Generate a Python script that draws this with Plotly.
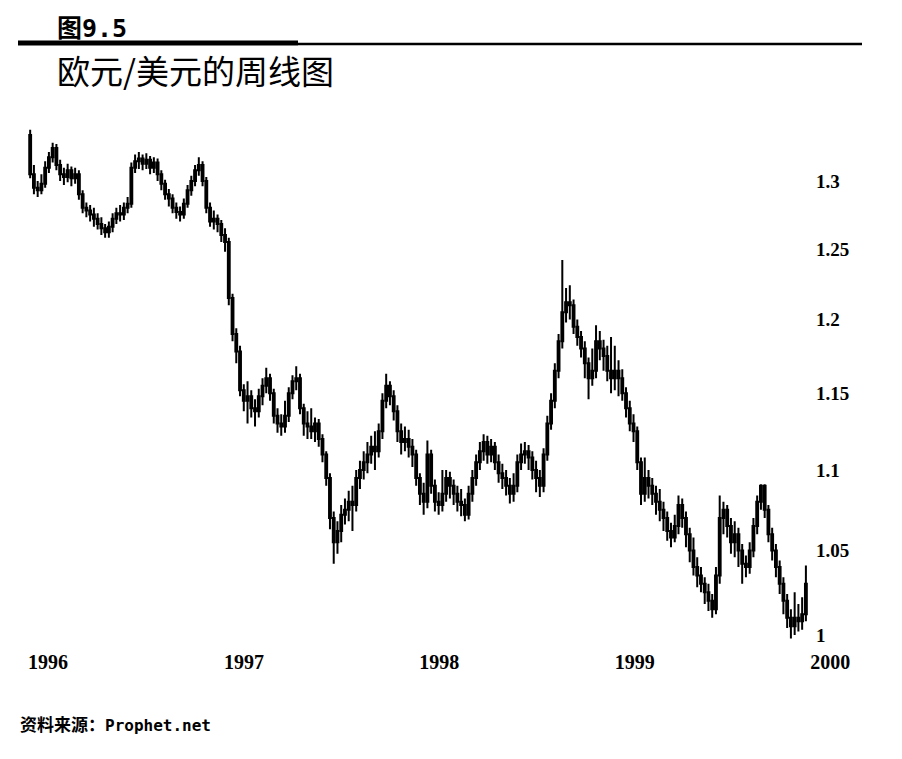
import pandas as pd
import plotly.graph_objects as go

# weekly EUR/USD candles, Jan 1996 - Dec 1999
weeks = pd.date_range("1996-01-05", periods=208, freq="W-FRI")

opens = [
    # 1996
    1.335, 1.305, 1.295, 1.293, 1.298, 1.310, 1.318, 1.325, 1.312, 1.305, 1.303, 1.308, 1.302,
    1.305, 1.290, 1.280, 1.278, 1.275, 1.272, 1.268, 1.265, 1.262, 1.266, 1.272, 1.276, 1.275,
    1.280, 1.283, 1.310, 1.315, 1.317, 1.313, 1.316, 1.310, 1.314, 1.305, 1.298, 1.290, 1.287,
    1.280, 1.277, 1.275, 1.283, 1.293, 1.300, 1.308, 1.312, 1.300, 1.280, 1.270, 1.272, 1.268,
    # 1997
    1.260, 1.255, 1.215, 1.190, 1.178, 1.152, 1.145, 1.148, 1.140, 1.138, 1.148, 1.155, 1.160,
    1.150, 1.135, 1.130, 1.128, 1.135, 1.150, 1.158, 1.160, 1.140, 1.130, 1.128, 1.125, 1.130,
    1.120, 1.110, 1.095, 1.070, 1.055, 1.062, 1.072, 1.075, 1.080, 1.078, 1.095, 1.100, 1.105,
    1.110, 1.115, 1.112, 1.125, 1.145, 1.155, 1.148, 1.138, 1.125, 1.118, 1.120, 1.115, 1.110,
    # 1998
    1.095, 1.085, 1.080, 1.110, 1.090, 1.080, 1.078, 1.085, 1.095, 1.090, 1.085, 1.080, 1.078,
    1.072, 1.085, 1.095, 1.105, 1.112, 1.118, 1.110, 1.115, 1.105, 1.098, 1.095, 1.090, 1.085,
    1.090, 1.105, 1.110, 1.112, 1.108, 1.100, 1.095, 1.090, 1.110, 1.130, 1.145, 1.165, 1.185,
    1.205, 1.212, 1.210, 1.195, 1.188, 1.180, 1.170, 1.160, 1.165, 1.185, 1.180, 1.175, 1.165,
    # 1999
    1.160, 1.165, 1.160, 1.150, 1.140, 1.130, 1.125, 1.105, 1.085, 1.095, 1.090, 1.085, 1.080,
    1.075, 1.070, 1.062, 1.058, 1.065, 1.078, 1.070, 1.060, 1.050, 1.040, 1.035, 1.030, 1.025,
    1.020, 1.015, 1.035, 1.070, 1.075, 1.065, 1.055, 1.060, 1.050, 1.042, 1.040, 1.050, 1.065,
    1.080, 1.090, 1.075, 1.060, 1.050, 1.040, 1.030, 1.020, 1.010, 1.005, 1.010, 1.008, 1.012,
]

highs = [
    # 1996
    1.339, 1.312, 1.300, 1.305, 1.315, 1.322, 1.329, 1.328, 1.316, 1.310, 1.313, 1.311, 1.310,
    1.308, 1.293, 1.284, 1.282, 1.280, 1.276, 1.273, 1.268, 1.270, 1.276, 1.280, 1.282, 1.284,
    1.288, 1.314, 1.320, 1.322, 1.320, 1.321, 1.319, 1.318, 1.317, 1.308, 1.301, 1.294, 1.290,
    1.284, 1.281, 1.287, 1.297, 1.304, 1.312, 1.318, 1.315, 1.303, 1.284, 1.278, 1.275, 1.271,
    # 1997
    1.265, 1.258, 1.218, 1.194, 1.182, 1.156, 1.158, 1.152, 1.146, 1.153, 1.160, 1.167, 1.163,
    1.153, 1.140, 1.136, 1.145, 1.154, 1.162, 1.168, 1.163, 1.143, 1.138, 1.140, 1.134, 1.133,
    1.123, 1.112, 1.098, 1.074, 1.068, 1.078, 1.082, 1.087, 1.090, 1.100, 1.106, 1.112, 1.118,
    1.122, 1.125, 1.130, 1.150, 1.163, 1.158, 1.152, 1.142, 1.130, 1.128, 1.126, 1.120, 1.113,
    # 1998
    1.098, 1.092, 1.119, 1.113, 1.094, 1.086, 1.100, 1.100, 1.099, 1.094, 1.090, 1.088, 1.082,
    1.090, 1.100, 1.110, 1.118, 1.123, 1.122, 1.120, 1.118, 1.110, 1.104, 1.100, 1.095, 1.098,
    1.110, 1.117, 1.118, 1.116, 1.112, 1.106, 1.100, 1.114, 1.135, 1.150, 1.170, 1.190, 1.242,
    1.222, 1.224, 1.214, 1.200, 1.192, 1.185, 1.174, 1.180, 1.196, 1.192, 1.186, 1.182, 1.188,
    # 1999
    1.182, 1.172, 1.166, 1.154, 1.145, 1.136, 1.128, 1.108, 1.108, 1.100, 1.095, 1.090, 1.088,
    1.080, 1.074, 1.067, 1.072, 1.084, 1.082, 1.074, 1.064, 1.058, 1.046, 1.040, 1.034, 1.030,
    1.024, 1.040, 1.084, 1.080, 1.078, 1.070, 1.068, 1.064, 1.054, 1.047, 1.055, 1.070, 1.084,
    1.091, 1.091, 1.078, 1.064, 1.054, 1.044, 1.034, 1.024, 1.015, 1.025, 1.018, 1.022, 1.041,
]

lows = [
    # 1996
    1.302, 1.290, 1.288, 1.290, 1.295, 1.306, 1.314, 1.308, 1.300, 1.297, 1.299, 1.296, 1.298,
    1.286, 1.276, 1.273, 1.270, 1.266, 1.264, 1.260, 1.258, 1.258, 1.262, 1.268, 1.270, 1.271,
    1.276, 1.280, 1.306, 1.309, 1.308, 1.309, 1.305, 1.306, 1.300, 1.293, 1.286, 1.281, 1.276,
    1.272, 1.270, 1.272, 1.280, 1.289, 1.296, 1.304, 1.296, 1.276, 1.266, 1.264, 1.262, 1.255,
    # 1997
    1.248, 1.210, 1.185, 1.170, 1.148, 1.138, 1.130, 1.134, 1.128, 1.134, 1.142, 1.150, 1.145,
    1.130, 1.124, 1.122, 1.124, 1.131, 1.146, 1.152, 1.136, 1.122, 1.120, 1.120, 1.118, 1.115,
    1.105, 1.090, 1.063, 1.042, 1.048, 1.055, 1.066, 1.068, 1.062, 1.074, 1.088, 1.094, 1.098,
    1.104, 1.100, 1.108, 1.120, 1.140, 1.142, 1.132, 1.118, 1.110, 1.112, 1.108, 1.102, 1.090,
    # 1998
    1.078, 1.072, 1.076, 1.085, 1.074, 1.072, 1.074, 1.080, 1.082, 1.078, 1.074, 1.071, 1.068,
    1.069, 1.080, 1.090, 1.100, 1.106, 1.104, 1.105, 1.100, 1.092, 1.088, 1.084, 1.079, 1.080,
    1.086, 1.100, 1.104, 1.100, 1.094, 1.086, 1.083, 1.086, 1.106, 1.126, 1.140, 1.160, 1.180,
    1.198, 1.200, 1.190, 1.182, 1.174, 1.160, 1.146, 1.155, 1.160, 1.172, 1.165, 1.158, 1.150,
    # 1999
    1.152, 1.148, 1.145, 1.134, 1.125, 1.118, 1.100, 1.078, 1.080, 1.082, 1.078, 1.072, 1.068,
    1.062, 1.056, 1.052, 1.055, 1.060, 1.064, 1.052, 1.043, 1.035, 1.028, 1.025, 1.018, 1.014,
    1.010, 1.012, 1.030, 1.060, 1.058, 1.048, 1.046, 1.040, 1.030, 1.034, 1.036, 1.046, 1.060,
    1.075, 1.070, 1.055, 1.044, 1.034, 1.024, 1.012, 1.004, 0.998, 1.000, 1.002, 1.003, 1.008,
]

closes = [
    # 1996
    1.305, 1.295, 1.293, 1.298, 1.310, 1.318, 1.325, 1.312, 1.305, 1.303, 1.308, 1.302, 1.305,
    1.290, 1.280, 1.278, 1.275, 1.272, 1.268, 1.265, 1.262, 1.266, 1.272, 1.276, 1.275, 1.280,
    1.283, 1.310, 1.315, 1.317, 1.313, 1.316, 1.310, 1.314, 1.305, 1.298, 1.290, 1.287, 1.280,
    1.277, 1.275, 1.283, 1.293, 1.300, 1.308, 1.312, 1.300, 1.280, 1.270, 1.272, 1.268, 1.260,
    # 1997
    1.255, 1.215, 1.190, 1.178, 1.152, 1.145, 1.148, 1.140, 1.138, 1.148, 1.155, 1.160, 1.150,
    1.135, 1.130, 1.128, 1.135, 1.150, 1.158, 1.160, 1.140, 1.130, 1.128, 1.125, 1.130, 1.120,
    1.110, 1.095, 1.070, 1.055, 1.062, 1.072, 1.075, 1.080, 1.078, 1.095, 1.100, 1.105, 1.110,
    1.115, 1.112, 1.125, 1.145, 1.155, 1.148, 1.138, 1.125, 1.118, 1.120, 1.115, 1.110, 1.095,
    # 1998
    1.085, 1.080, 1.110, 1.090, 1.080, 1.078, 1.085, 1.095, 1.090, 1.085, 1.080, 1.078, 1.072,
    1.085, 1.095, 1.105, 1.112, 1.118, 1.110, 1.115, 1.105, 1.098, 1.095, 1.090, 1.085, 1.090,
    1.105, 1.110, 1.112, 1.108, 1.100, 1.095, 1.090, 1.110, 1.130, 1.145, 1.165, 1.185, 1.205,
    1.212, 1.210, 1.195, 1.188, 1.180, 1.170, 1.160, 1.165, 1.185, 1.180, 1.175, 1.165, 1.160,
    # 1999
    1.165, 1.160, 1.150, 1.140, 1.130, 1.125, 1.105, 1.085, 1.095, 1.090, 1.085, 1.080, 1.075,
    1.070, 1.062, 1.058, 1.065, 1.078, 1.070, 1.060, 1.050, 1.040, 1.035, 1.030, 1.025, 1.020,
    1.015, 1.035, 1.070, 1.075, 1.065, 1.055, 1.060, 1.050, 1.042, 1.040, 1.050, 1.065, 1.080,
    1.090, 1.075, 1.060, 1.050, 1.040, 1.030, 1.020, 1.010, 1.005, 1.010, 1.008, 1.012, 1.030,
]

year_ticks = ["1996-01-01", "1997-01-01", "1998-01-01", "1999-01-01", "2000-01-01"]
year_labels = ["1996", "1997", "1998", "1999", "2000"]
price_ticks = [1, 1.05, 1.1, 1.15, 1.2, 1.25, 1.3]
price_labels = ["1", "1.05", "1.1", "1.15", "1.2", "1.25", "1.3"]

# the page body adds an 8px margin, so the figure is drawn 8px in from the window
PAGE = 8
W, H = 902 - 2 * PAGE, 759 - 2 * PAGE
L, R, T, B = 12, 79, 112, 103
PW, PH = W - L - R, H - T - B


def px(x):
    # window pixel -> paper x
    return (x - PAGE - L) / PW


def py(y):
    # window pixel -> paper y
    return (H - B - (y - PAGE)) / PH


cjk = "Noto Sans CJK SC"
mono = "DejaVu Sans Mono"

fig = go.Figure(go.Candlestick(
    x=weeks, open=opens, high=highs, low=lows, close=closes,
    increasing=dict(fillcolor="white", line=dict(color="black", width=2)),
    decreasing=dict(fillcolor="black", line=dict(color="black", width=2)),
    whiskerwidth=0, showlegend=False, hoverinfo="skip",
))

fig.update_layout(
    width=W, height=H,
    margin=dict(l=L, r=R, t=T, b=B),
    paper_bgcolor="white", plot_bgcolor="white",
    showlegend=False,
)

fig.update_xaxes(
    type="date", range=["1995-12-17", "2000-01-10"],
    rangeslider_visible=False,
    tickvals=year_ticks, ticktext=year_labels,
    ticklabelposition="outside right",
    tickfont=dict(family="Liberation Serif", size=20, color="black", weight="bold"),
    showgrid=False, zeroline=False, showline=False, ticks="",
)

fig.update_yaxes(
    type="log", range=[-0.003264, 0.129249], side="right",
    tickvals=price_ticks, ticktext=price_labels,
    tickfont=dict(family="Liberation Serif", size=19, color="black", weight="bold"),
    showgrid=False, zeroline=False, showline=False, ticks="",
)

# header rules under the figure number
fig.add_shape(type="line", xref="paper", yref="paper",
              x0=px(18), x1=px(298), y0=py(43), y1=py(43),
              line=dict(color="black", width=5))
fig.add_shape(type="line", xref="paper", yref="paper",
              x0=px(298), x1=px(862), y0=py(44), y1=py(44),
              line=dict(color="black", width=2.5))

fig.add_annotation(text=f"<b>图<span style='font-family:{mono}'>9.5</span></b>",
                   xref="paper", yref="paper",
                   x=px(56), y=py(26), xanchor="left", yanchor="middle",
                   showarrow=False, borderpad=0,
                   font=dict(family=cjk, size=25, color="black"))
fig.add_annotation(text="欧元/美元的周线图", xref="paper", yref="paper",
                   x=px(55), y=py(70), xanchor="left", yanchor="middle",
                   showarrow=False,
                   font=dict(family=cjk, size=33, color="black"))
fig.add_annotation(text=f"<b>资料来源：<span style='font-family:{mono};font-size:16px'>Prophet.net</span></b>",
                   xref="paper", yref="paper",
                   x=px(18), y=py(723), xanchor="left", yanchor="middle",
                   showarrow=False,
                   font=dict(family=cjk, size=17, color="black"))

fig.write_html("out.html")
